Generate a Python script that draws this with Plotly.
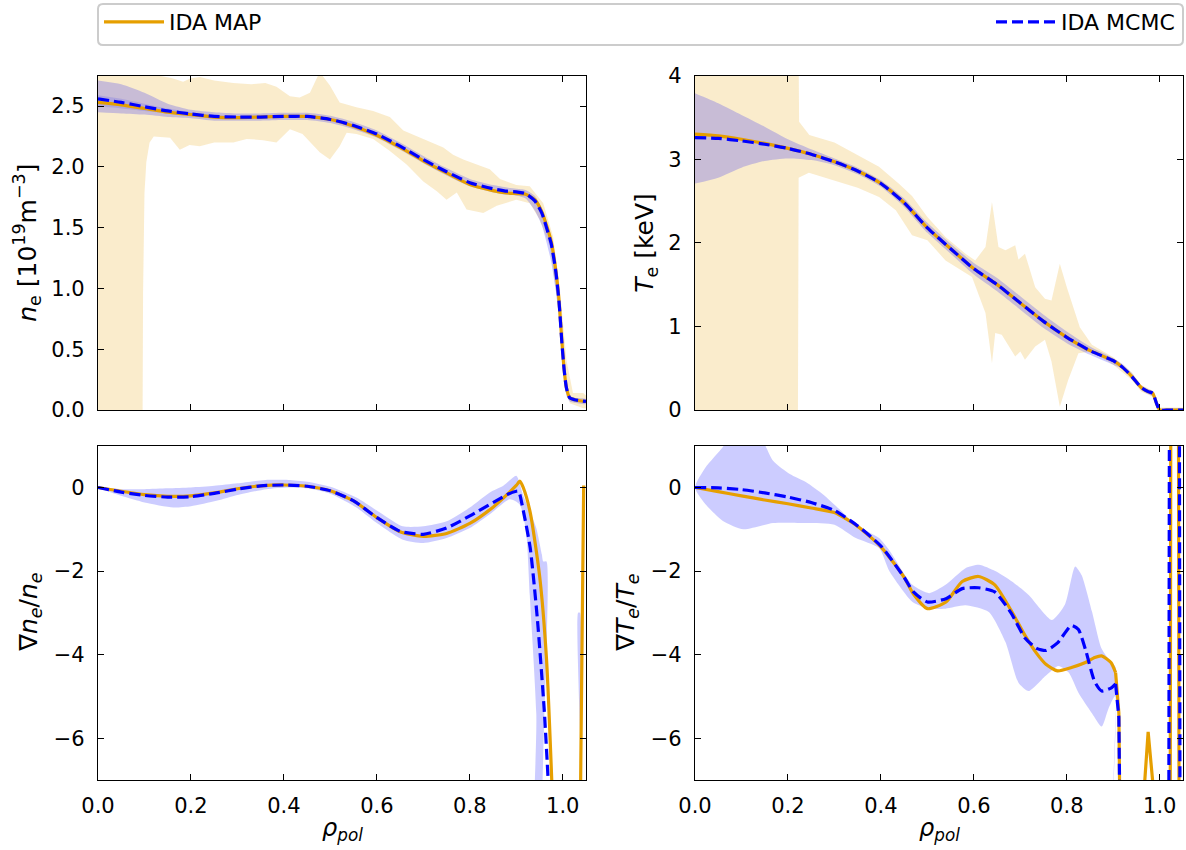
import plotly.graph_objects as go

# ---------------- data ----------------
# top-left: electron density n_e [1e19 m^-3]
ne_x = [0, 0.05, 0.1, 0.15, 0.2, 0.25, 0.3, 0.35, 0.4, 0.45, 0.5, 0.55, 0.6, 0.65, 0.7, 0.75, 0.8,
        0.85, 0.88, 0.9, 0.92, 0.94, 0.955, 0.965, 0.975, 0.985, 0.992, 0.998, 1.003, 1.008, 1.015, 1.025, 1.05]
ne_mcmc = [2.56, 2.53, 2.495, 2.46, 2.435, 2.415, 2.41, 2.41, 2.415, 2.415, 2.39, 2.34, 2.27, 2.17, 2.06, 1.96, 1.87,
           1.82, 1.80, 1.795, 1.78, 1.72, 1.62, 1.50, 1.37, 1.14, 0.89, 0.56, 0.33, 0.18, 0.10, 0.085, 0.07]
ne_map = [2.53, 2.51, 2.48, 2.45, 2.43, 2.41, 2.405, 2.41, 2.415, 2.415, 2.39, 2.335, 2.26, 2.16, 2.05, 1.95, 1.855,
          1.805, 1.785, 1.78, 1.775, 1.73, 1.63, 1.52, 1.39, 1.15, 0.90, 0.57, 0.33, 0.18, 0.10, 0.085, 0.07]
ne_mcmc_hi = [2.71, 2.68, 2.61, 2.52, 2.47, 2.45, 2.44, 2.44, 2.445, 2.445, 2.42, 2.37, 2.30, 2.20, 2.09, 1.99, 1.90,
              1.85, 1.83, 1.82, 1.81, 1.76, 1.66, 1.55, 1.42, 1.20, 0.96, 0.63, 0.36, 0.20, 0.12, 0.10, 0.09]
ne_mcmc_lo = [2.45, 2.44, 2.43, 2.41, 2.40, 2.38, 2.38, 2.38, 2.385, 2.385, 2.36, 2.31, 2.24, 2.14, 2.03, 1.93, 1.84,
              1.79, 1.77, 1.765, 1.74, 1.64, 1.52, 1.38, 1.22, 0.98, 0.76, 0.48, 0.25, 0.12, 0.07, 0.06, 0.05]
ne_core_x = [0, 0.05, 0.1, 0.15, 0.2, 0.25, 0.3]
ne_core_hi = [2.59, 2.56, 2.52, 2.48, 2.45, 2.425, 2.415]
ne_core_lo = [2.50, 2.48, 2.46, 2.44, 2.42, 2.40, 2.40]
ne_map_up_x = [0, 0.125, 0.133, 0.16, 0.183, 0.2, 0.219, 0.25, 0.291, 0.33, 0.36, 0.384, 0.413, 0.434, 0.456, 0.477,
               0.499, 0.52, 0.556, 0.592, 0.628, 0.657, 0.7, 0.743, 0.764, 0.786, 0.815, 0.843, 0.865, 0.9, 0.929,
               0.958, 0.979, 0.993, 1.008, 1.022, 1.044, 1.05]
ne_map_up = [4.0, 4.0, 2.75, 2.73, 2.70, 2.73, 2.74, 2.71, 2.69, 2.68, 2.69, 2.66, 2.58, 2.57, 2.61, 2.78,
             2.67, 2.53, 2.49, 2.46, 2.41, 2.30, 2.23, 2.16, 2.10, 2.06, 2.02, 1.98, 1.90, 1.85, 1.84,
             1.70, 1.43, 1.02, 0.41, 0.14, 0.14, 0.12]
ne_map_lo_x = [0, 0.095, 0.096, 0.097, 0.1, 0.104, 0.111, 0.12, 0.133, 0.155, 0.176, 0.197, 0.219, 0.25, 0.291,
               0.32, 0.355, 0.384, 0.413, 0.44, 0.477, 0.499, 0.52, 0.535, 0.556, 0.592, 0.628, 0.664, 0.7, 0.729,
               0.75, 0.772, 0.793, 0.829, 0.858, 0.9, 0.929, 0.95, 0.972, 0.986, 1.001, 1.015, 1.044, 1.05]
ne_map_lo = [-1.0, -1.0, 0.0, 0.96, 1.78, 2.04, 2.20, 2.25, 2.25, 2.24, 2.14, 2.18, 2.17, 2.20, 2.20,
             2.23, 2.22, 2.20, 2.31, 2.27, 2.12, 2.06, 2.17, 2.28, 2.27, 2.23, 2.13, 2.02, 1.88, 1.80,
             1.73, 1.79, 1.65, 1.62, 1.68, 1.73, 1.70, 1.57, 1.35, 0.96, 0.41, 0.055, 0.015, 0.015]

# top-right: electron temperature T_e [keV]
te_x = [0, 0.05, 0.1, 0.15, 0.2, 0.25, 0.3, 0.35, 0.4, 0.45, 0.5, 0.55, 0.6, 0.65, 0.7, 0.75, 0.8, 0.85,
        0.9, 0.92, 0.94, 0.96, 0.975, 0.985, 0.993, 1.0, 1.02, 1.05]
te_mcmc = [3.26, 3.25, 3.22, 3.18, 3.13, 3.06, 2.97, 2.86, 2.71, 2.48, 2.18, 1.93, 1.69, 1.50, 1.28, 1.06, 0.87, 0.71,
           0.59, 0.51, 0.40, 0.27, 0.22, 0.20, 0.08, 0.0, 0.0, 0.0]
te_map = [3.30, 3.28, 3.24, 3.19, 3.13, 3.06, 2.97, 2.86, 2.71, 2.48, 2.18, 1.93, 1.69, 1.50, 1.28, 1.06, 0.87, 0.71,
          0.59, 0.51, 0.40, 0.27, 0.22, 0.20, 0.08, 0.0, 0.0, 0.0]
te_mcmc_hi = [3.79, 3.67, 3.53, 3.39, 3.24, 3.12, 3.01, 2.90, 2.75, 2.53, 2.24, 1.99, 1.76, 1.58, 1.36, 1.14, 0.94, 0.76,
              0.62, 0.55, 0.44, 0.30, 0.25, 0.22, 0.11, 0.02, 0.02, 0.02]
te_mcmc_lo = [2.71, 2.78, 2.90, 2.98, 3.01, 2.99, 2.93, 2.82, 2.67, 2.43, 2.12, 1.87, 1.62, 1.42, 1.20, 0.98, 0.80, 0.66,
              0.54, 0.49, 0.38, 0.24, 0.19, 0.16, 0.05, -0.02, -0.02, -0.02]
te_map_up_x = [0, 0.222, 0.224, 0.246, 0.3, 0.35, 0.396, 0.44, 0.467, 0.5, 0.539, 0.582, 0.603, 0.625, 0.639, 0.653,
               0.668, 0.689, 0.696, 0.71, 0.732, 0.753, 0.767, 0.785, 0.8, 0.828, 0.854, 0.9, 0.94, 0.96, 0.985,
               1.0, 1.05]
te_map_up = [5.0, 5.0, 3.45, 3.29, 3.20, 3.05, 2.91, 2.70, 2.56, 2.31, 2.07, 1.87, 1.79, 1.95, 2.49, 1.95,
             1.91, 1.97, 1.80, 1.87, 1.47, 1.33, 1.31, 1.75, 1.47, 0.99, 0.78, 0.63, 0.45, 0.30, 0.23,
             0.03, 0.03]
te_map_lo_x = [0, 0.221, 0.223, 0.245, 0.3, 0.35, 0.396, 0.432, 0.467, 0.5, 0.539, 0.596, 0.625, 0.639, 0.646,
               0.66, 0.689, 0.7, 0.71, 0.732, 0.753, 0.767, 0.785, 0.803, 0.825, 0.854, 0.9, 0.94, 0.96, 0.985,
               1.0, 1.05]
te_map_lo = [-1.0, -1.0, 2.78, 2.84, 2.75, 2.66, 2.55, 2.39, 2.09, 2.03, 1.79, 1.59, 1.16, 0.56, 0.92,
             0.90, 0.64, 0.70, 0.60, 0.76, 0.84, 0.58, 0.04, 0.36, 0.68, 0.70, 0.54, 0.36, 0.22, 0.16,
             -0.03, -0.03]

# bottom-left: normalised density gradient
gne_mcmc_x = [0, 0.05, 0.1, 0.15, 0.2, 0.25, 0.3, 0.35, 0.4, 0.45, 0.5, 0.55, 0.6, 0.65, 0.7, 0.75, 0.8, 0.85,
              0.88, 0.9, 0.905, 0.915, 0.93, 0.945, 0.96, 0.97, 0.98, 1.05]
gne_mcmc = [0, -0.11, -0.19, -0.23, -0.22, -0.14, -0.04, 0.04, 0.06, 0.03, -0.08, -0.32, -0.72, -1.05, -1.12, -0.97,
            -0.68, -0.36, -0.17, -0.09, -0.09, -0.55, -1.45, -3.1, -5.3, -7.3, -12, -12]
gne_map_x = [0, 0.05, 0.1, 0.15, 0.2, 0.25, 0.3, 0.35, 0.4, 0.45, 0.5, 0.55, 0.6, 0.65, 0.7, 0.75, 0.8, 0.85,
             0.88, 0.9, 0.908, 0.915, 0.93, 0.95, 0.965, 0.977, 0.99, 1.036, 1.038, 1.045]
gne_map = [0, -0.09, -0.17, -0.21, -0.20, -0.13, -0.03, 0.04, 0.06, 0.03, -0.08, -0.32, -0.72, -1.06, -1.17, -1.10,
           -0.86, -0.47, -0.17, 0.05, 0.15, 0.0, -0.6, -2.1, -4.1, -7.2, -12, -12, -7.5, 0.05]
gne_band_up_x = [0, 0.05, 0.1, 0.15, 0.2, 0.25, 0.3, 0.36, 0.41, 0.45, 0.5, 0.556, 0.6, 0.656, 0.7, 0.75, 0.8,
                 0.843, 0.872, 0.9, 0.914, 0.93, 0.943, 0.955, 0.958, 0.965, 0.967, 1.031, 1.033, 1.037, 1.039, 1.05]
gne_band_up = [0, -0.04, -0.04, -0.02, 0.0, 0.04, 0.1, 0.18, 0.18, 0.14, 0.02, -0.24, -0.55, -0.93, -0.93, -0.81,
               -0.48, -0.12, 0.04, 0.28, -0.16, -0.6, -0.97, -1.6, -1.77, -1.77, -12, -12, -3.0, -3.0, -12, -12]
gne_band_lo_x = [0, 0.05, 0.1, 0.162, 0.2, 0.255, 0.3, 0.362, 0.41, 0.45, 0.5, 0.556, 0.6, 0.656, 0.7, 0.75, 0.8,
                 0.843, 0.886, 0.907, 0.921, 0.929, 0.943, 0.95, 1.05]
gne_band_lo = [0, -0.2, -0.36, -0.48, -0.45, -0.32, -0.18, -0.04, 0.0, -0.02, -0.15, -0.48, -0.85, -1.25, -1.33,
               -1.21, -0.97, -0.64, -0.28, -0.4, -1.05, -2.58, -5.4, -12, -12]

# bottom-right: normalised temperature gradient
gte_mcmc_x = [0, 0.05, 0.1, 0.15, 0.2, 0.25, 0.3, 0.35, 0.4, 0.45, 0.47, 0.5, 0.54, 0.575, 0.61, 0.645, 0.68, 0.71,
              0.735, 0.755, 0.78, 0.81, 0.825, 0.84, 0.86, 0.875, 0.895, 0.905, 0.912, 0.918, 1.019, 1.022, 1.041,
              1.044, 1.05]
gte_mcmc = [0, -0.01, -0.05, -0.13, -0.23, -0.36, -0.55, -0.92, -1.40, -2.15, -2.5, -2.74, -2.66, -2.42, -2.40, -2.5,
            -3.0, -3.6, -3.85, -3.9, -3.72, -3.30, -3.4, -3.87, -4.65, -4.87, -4.8, -4.7, -5.5, -12, -12, 12, 12,
            -12, -12]
gte_map_x = [0, 0.05, 0.1, 0.15, 0.2, 0.25, 0.3, 0.35, 0.4, 0.45, 0.47, 0.5, 0.54, 0.575, 0.61, 0.645, 0.68, 0.71,
             0.735, 0.755, 0.78, 0.81, 0.84, 0.86, 0.875, 0.895, 0.905, 0.912, 0.918, 0.962, 0.966, 0.975, 0.987,
             0.99, 1.022, 1.025, 1.039, 1.042, 1.05]
gte_map = [0, -0.1, -0.2, -0.3, -0.39, -0.49, -0.6, -0.93, -1.42, -2.15, -2.55, -2.9, -2.74, -2.25, -2.13, -2.33,
           -2.94, -3.54, -3.97, -4.23, -4.39, -4.31, -4.19, -4.07, -4.03, -4.19, -4.43, -5.4, -12, -12, -7.3, -5.85,
           -7.3, -12, -12, 12, 12, -12, -12]
gte_band_up_x = [0, 0.0225, 0.06, 0.08, 0.135, 0.168, 0.204, 0.24, 0.275, 0.311, 0.346, 0.396, 0.418, 0.468, 0.504,
                 0.539, 0.582, 0.611, 0.646, 0.682, 0.718, 0.768, 0.796, 0.818, 0.832, 0.854, 0.875, 0.896, 0.905,
                 0.912, 1.05]
gte_band_up = [0, 0.48, 0.97, 1.3, 1.3, 0.64, 0.32, 0.12, -0.16, -0.52, -0.89, -1.21, -1.5, -2.33, -2.53,
               -2.33, -1.93, -1.85, -2.0, -2.25, -2.57, -3.17, -2.8, -1.89, -2.1, -2.96, -3.86, -4.19, -4.3,
               -12, -12]
gte_band_lo_x = [0, 0.0225, 0.06, 0.104, 0.168, 0.24, 0.3, 0.346, 0.396, 0.418, 0.468, 0.504, 0.539, 0.582, 0.632,
                 0.668, 0.696, 0.718, 0.754, 0.782, 0.804, 0.825, 0.854, 0.875, 0.889, 0.904, 0.912, 1.05]
gte_band_lo = [0, -0.4, -0.8, -1.0, -0.85, -0.85, -0.89, -1.21, -1.45, -2.0, -2.74, -2.9, -2.9, -2.82, -2.98,
               -3.70, -4.67, -4.87, -4.51, -4.27, -4.43, -4.91, -5.4, -5.72, -5.31, -4.99, -12, -12]

# ---------------- style ----------------
W, H = 1186, 850
ORANGE = "#E69F00"
BLUE = "#0000FF"
ORANGE_FILL = "rgba(230,159,0,0.2)"
BLUE_FILL = "rgba(0,0,255,0.2)"
FONT = "DejaVu Sans"
DASH = "11px,5px"


def poly(xu, yu, xl, yl):
    return list(xu) + list(xl)[::-1], list(yu) + list(yl)[::-1]


fig = go.Figure()


def add_band(xu, yu, xl, yl, color, ax, shape="linear"):
    px, py = poly(xu, yu, xl, yl)
    fig.add_trace(go.Scatter(x=px, y=py, mode="lines", fill="toself", fillcolor=color,
                             line=dict(width=0, shape=shape, smoothing=0.6), hoverinfo="skip", showlegend=False,
                             xaxis="x" + ax, yaxis="y" + ax))


def add_line(x, y, color, dash, ax, name=None, legend=None, split_at=None):
    """Smooth (spline) part up to x <= split_at, then straight segments for the near-vertical jumps."""
    if split_at is None:
        parts = [(x, y, "spline")]
    else:
        k = max(i for i, v in enumerate(x) if v <= split_at)
        parts = [(x[:k + 1], y[:k + 1], "spline"), (x[k:], y[k:], "linear")]
    for j, (px, py, shp) in enumerate(parts):
        fig.add_trace(go.Scatter(x=px, y=py, mode="lines", name=name,
                                 line=dict(color=color, width=3.2, dash=dash, shape=shp, smoothing=0.6),
                                 showlegend=(legend is not None and j == 0), legend=legend,
                                 xaxis="x" + ax, yaxis="y" + ax))


# panel 1 (n_e)
add_band(ne_map_up_x, ne_map_up, ne_map_lo_x, ne_map_lo, ORANGE_FILL, "")
add_band(ne_x, ne_mcmc_hi, ne_x, ne_mcmc_lo, BLUE_FILL, "", "spline")
add_band(ne_core_x, ne_core_hi, ne_core_x, ne_core_lo, "rgba(0,0,255,0.12)", "", "spline")
add_line(ne_x, ne_map, ORANGE, "solid", "", "IDA MAP", "legend")
add_line(ne_x, ne_mcmc, BLUE, DASH, "", "IDA MCMC", "legend2")

# panel 2 (T_e)
add_band(te_map_up_x, te_map_up, te_map_lo_x, te_map_lo, ORANGE_FILL, "2")
add_band(te_x, te_mcmc_hi, te_x, te_mcmc_lo, BLUE_FILL, "2", "spline")
add_line(te_x, te_map, ORANGE, "solid", "2")
add_line(te_x, te_mcmc, BLUE, DASH, "2")

# panel 3 (grad n_e / n_e)
add_band(gne_band_up_x, gne_band_up, gne_band_lo_x, gne_band_lo, BLUE_FILL, "3", "spline")
add_line(gne_map_x, gne_map, ORANGE, "solid", "3", split_at=0.977)
add_line(gne_mcmc_x, gne_mcmc, BLUE, DASH, "3", split_at=0.97)

# panel 4 (grad T_e / T_e)
add_band(gte_band_up_x, gte_band_up, gte_band_lo_x, gte_band_lo, BLUE_FILL, "4", "spline")
add_line(gte_map_x, gte_map, ORANGE, "solid", "4", split_at=0.905)
add_line(gte_mcmc_x, gte_mcmc, BLUE, DASH, "4", split_at=0.905)

# ---------------- layout ----------------
xl = [98 / W, 586 / W]
xr = [695 / W, 1183 / W]
yt = [1 - 410 / H, 1 - 75.7 / H]
yb = [1 - 780 / H, 1 - 445.7 / H]

axis_common = dict(showgrid=False, zeroline=False, showline=True, linecolor="black", linewidth=1.2,
                   mirror="ticks", ticks="inside", ticklen=6, tickwidth=1.2, tickcolor="black", automargin=False,
                   tickfont=dict(family=FONT, size=21, color="black"))
xcommon = dict(axis_common, range=[0, 1.05], tick0=0, dtick=0.2, tickformat=".1f", ticklabelstandoff=7)
ycommon = dict(axis_common, ticklabelstandoff=8)

leg_common = dict(y=1 - 22 / H, yanchor="middle", orientation="h", bgcolor="rgba(0,0,0,0)", borderwidth=0,
                  itemwidth=60, font=dict(family=FONT, size=22, color="black"))

fig.update_layout(
    width=W, height=H, margin=dict(l=0, r=0, t=0, b=0, autoexpand=False),
    paper_bgcolor="white", plot_bgcolor="white",
    font=dict(family=FONT, size=21, color="black"),
    xaxis=dict(xcommon, domain=xl, anchor="y", showticklabels=False),
    yaxis=dict(ycommon, domain=yt, anchor="x", range=[0, 2.75], tick0=0, dtick=0.5, tickformat=".1f"),
    xaxis2=dict(xcommon, domain=xr, anchor="y2", showticklabels=False),
    yaxis2=dict(ycommon, domain=yt, anchor="x2", range=[0, 4], tick0=0, dtick=1),
    xaxis3=dict(xcommon, domain=xl, anchor="y3"),
    yaxis3=dict(ycommon, domain=yb, anchor="x3", range=[-7, 1], tickvals=[-6, -4, -2, 0]),
    xaxis4=dict(xcommon, domain=xr, anchor="y4"),
    yaxis4=dict(ycommon, domain=yb, anchor="x4", range=[-7, 1], tickvals=[-6, -4, -2, 0]),
    legend=dict(leg_common, x=99 / W, xanchor="left"),
    legend2=dict(leg_common, x=1180 / W, xanchor="right"),
)

# rounded legend frame
x0, x1 = 98 / W, 1183 / W
y0, y1 = 1 - 45 / H, 1 - 4 / H
rx, ry = 5 / W, 5 / H
path = (f"M{x0 + rx},{y1} L{x1 - rx},{y1} Q{x1},{y1} {x1},{y1 - ry} L{x1},{y0 + ry} "
        f"Q{x1},{y0} {x1 - rx},{y0} L{x0 + rx},{y0} Q{x0},{y0} {x0},{y0 + ry} "
        f"L{x0},{y1 - ry} Q{x0},{y1} {x0 + rx},{y1} Z")
fig.add_shape(type="path", path=path, xref="paper", yref="paper",
              line=dict(color="#CCCCCC", width=2), fillcolor="rgba(255,255,255,0.8)", layer="below")

# axis titles
titles = [
    ("<i>n</i><sub>e</sub> [10<sup>19</sup>m<sup>−3</sup>]", 27, (75.7 + 410) / 2, -90, 25),
    ("<i>T</i><sub>e</sub> [keV]", 646, (75.7 + 410) / 2, -90, 25),
    ("∇<i>n<sub>e</sub></i>/<i>n<sub>e</sub></i>", 30, (445.7 + 780) / 2, -90, 25),
    ("∇<i>T<sub>e</sub></i>/<i>T<sub>e</sub></i>", 627, (445.7 + 780) / 2, -90, 25),
    ("<i>ρ<sub>pol</sub></i>", 342, 829, 0, 24),
    ("<i>ρ<sub>pol</sub></i>", 939, 829, 0, 24),
]
for txt, px, py, ang, fs in titles:
    fig.add_annotation(text=txt, x=px / W, y=1 - py / H, xref="paper", yref="paper",
                       xanchor="center", yanchor="middle", showarrow=False, textangle=ang,
                       font=dict(family=FONT, size=fs, color="black"))

fig.write_html("out.html")
